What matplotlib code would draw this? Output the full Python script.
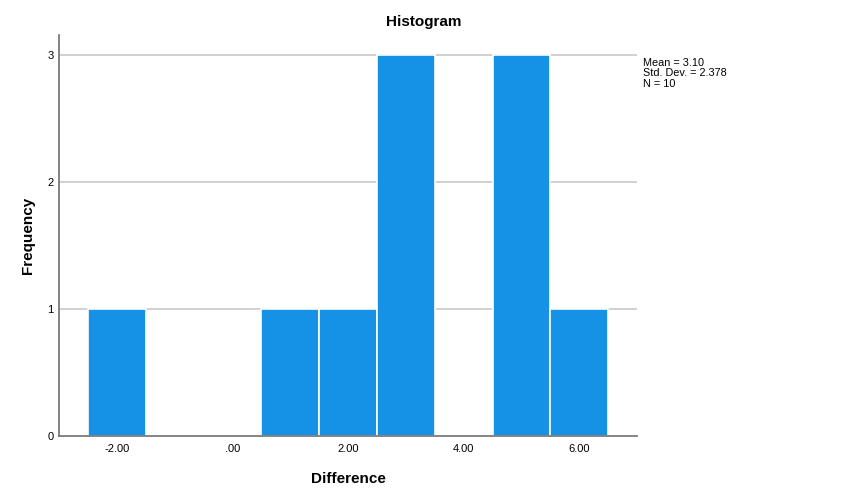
import numpy as np
import matplotlib
matplotlib.use("Agg")
import matplotlib.pyplot as plt
from matplotlib.ticker import FuncFormatter

plt.rcParams['font.family'] = ['Liberation Sans', 'DejaVu Sans']

differences = [-2, 1, 2, 3, 3, 3, 5, 5, 5, 6]
bin_edges = [-2.5, -1.5, -0.5, 0.5, 1.5, 2.5, 3.5, 4.5, 5.5, 6.5]
x_ticks = [-2, 0, 2, 4, 6]
y_ticks = [0, 1, 2, 3]


def spss_fmt(v, pos):
    s = f"{v:.2f}"
    if s.startswith("0."):
        s = s[1:]
    elif s.startswith("-0."):
        s = "-" + s[2:]
    return s


fig = plt.figure(figsize=(8.5, 5), dpi=100)
ax = fig.add_axes([59 / 850, 64 / 500, (637 - 59) / 850, (436 - 35) / 500])

ax.hist(differences, bins=bin_edges, color='#1591E6', edgecolor='white', linewidth=1.2, zorder=2)

ax.set_xlim(-3.0, 7.0)
ax.set_ylim(0, 3.16)
ax.set_xticks(x_ticks)
ax.set_yticks(y_ticks)
ax.xaxis.set_major_formatter(FuncFormatter(spss_fmt))
ax.tick_params(length=0, labelsize=8)
ax.tick_params(axis='x', pad=6)
ax.tick_params(axis='y', pad=4)

for y in y_ticks[1:]:
    ax.axhline(y, color='#c8c8c8', linewidth=1.2, zorder=1)

for side in ['top', 'right']:
    ax.spines[side].set_visible(False)
for side in ['left', 'bottom']:
    ax.spines[side].set_color('#707070')
    ax.spines[side].set_linewidth(1.2)

ax.set_xlabel('Difference', fontsize=11, fontweight='bold', labelpad=13)
ax.set_ylabel('Frequency', fontsize=11, fontweight='bold', labelpad=9)
fig.text(424 / 850, 1 - 22 / 500, 'Histogram', fontsize=11, fontweight='bold', ha='center', va='center')

mean = np.mean(differences)
sd = np.std(differences, ddof=1)
stats = f"Mean = {mean:.2f}\nStd. Dev. = {sd:.3f}\nN = {len(differences)}"
fig.text(643 / 850, 1 - 58 / 500, stats, fontsize=7.8, ha='left', va='top', linespacing=1.05)

fig.savefig('out.png', dpi=100)
